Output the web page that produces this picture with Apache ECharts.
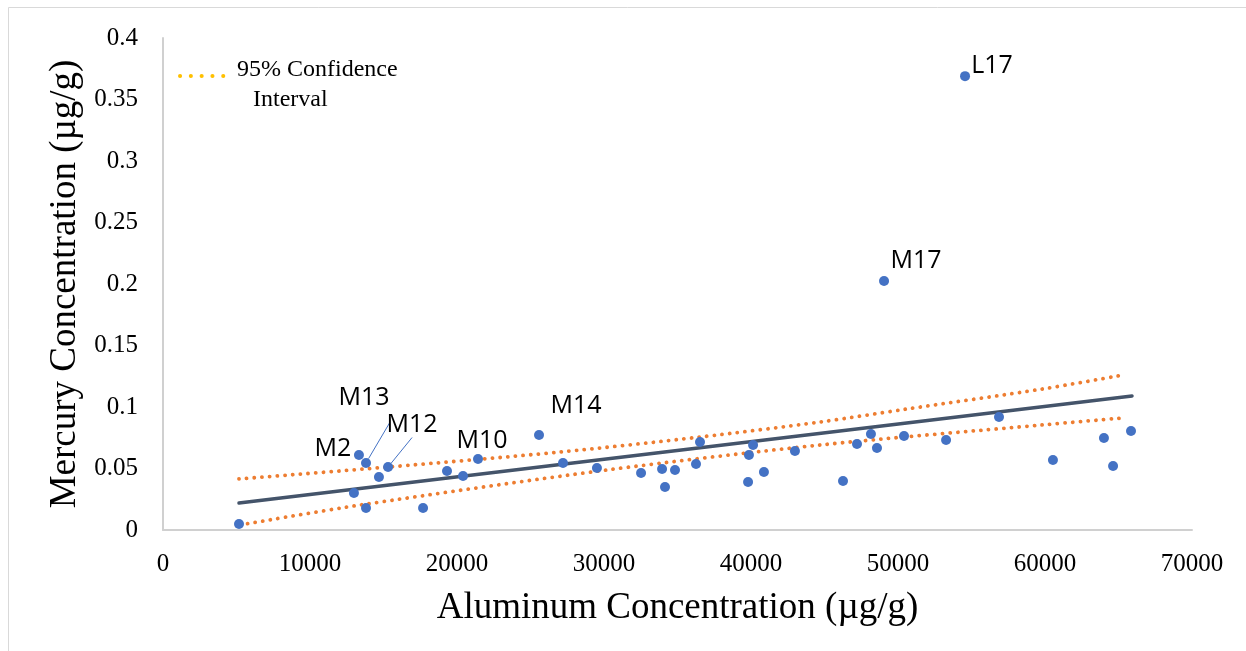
<!DOCTYPE html>
<html>
<head>
<meta charset="utf-8">
<script src="https://cdn.jsdelivr.net/npm/echarts@6/dist/echarts.min.js"></script>
<style>
html,body{margin:0;padding:0;background:#fff;}
#chart{width:1246px;height:651px;}
</style>
</head>
<body>
<div id="chart"></div>
<script>
// Sample points: aluminum (µg/g) and mercury (µg/g)
const alX = [5170, 12990, 13330, 13810, 13810, 14690, 15310, 17690, 19320, 20410, 21430, 25580, 27210, 29520, 32520, 33950, 34150, 34830, 36260, 36530, 39800, 39860, 40140, 40880, 42990, 46260, 47210, 48160, 48570, 49050, 50410, 53270, 54560, 56870, 60540, 64010, 64630, 65850];
const hgY = [0.0049, 0.0301, 0.061, 0.0545, 0.0179, 0.0431, 0.0512, 0.0179, 0.048, 0.0439, 0.0577, 0.0772, 0.0545, 0.0504, 0.0463, 0.0496, 0.035, 0.0488, 0.0537, 0.0715, 0.039, 0.061, 0.0691, 0.0472, 0.0642, 0.0398, 0.0699, 0.078, 0.0667, 0.2024, 0.0764, 0.0732, 0.369, 0.0919, 0.0569, 0.0748, 0.052, 0.0805];
const pointNames = ['', '', 'M2', 'M13', '', '', 'M12', '', '', '', 'M10', 'M14', '', '', '', '', '', '', '', '', '', '', '', '', '', '', '', '', '', 'M17', '', '', 'L17', '', '', '', '', ''];
// Regression line endpoints
const trendX = [5170, 65920];
const trendY = [0.022, 0.109];
// 95% confidence band
const upperX = [5170, 15310, 27010, 36530, 44690, 50610, 59800, 65310];
const upperY = [0.0415, 0.0512, 0.0634, 0.0756, 0.0878, 0.0984, 0.1146, 0.126];
const lowerX = [5240, 13400, 30200, 44690, 59800, 65310];
const lowerY = [0.0041, 0.0203, 0.0488, 0.0691, 0.0854, 0.0911];
// Axis ticks
const xTicks = {min: 0, max: 70000, interval: 10000};
const yTicks = {min: 0, max: 0.4, interval: 0.05};

// label offsets (pixels) relative to each labelled point
const labelOffsets = {
  'M2': [-26, -6], 'M13': [-2, -65], 'M12': [24, -42], 'M10': [4, -18],
  'M14': [37, -29], 'M17': [32, -20], 'L17': [27, -10]
};
const leaderNames = ['M13', 'M12'];

const zip = (a, b) => a.map((v, i) => [v, b[i]]);
const scatterData = alX.map((x, i) => {
  const nm = pointNames[i];
  const item = {value: [x, hgY[i]], name: nm};
  if (nm) {
    item.label = {show: true, position: 'inside', offset: labelOffsets[nm]};
    if (leaderNames.includes(nm)) {
      item.labelLine = {show: true, lineStyle: {color: '#4472C4', width: 1}};
    }
  }
  return item;
});

const serif = '"Liberation Serif", "Times New Roman", serif';
const chart = echarts.init(document.getElementById('chart'), null, {renderer: 'canvas'});
chart.setOption({
  animation: false,
  backgroundColor: '#fff',
  graphic: [{
    type: 'rect', silent: true, z: -10,
    shape: {x: 8.5, y: 7.5, width: 1400, height: 800},
    style: {fill: 'none', stroke: '#D9D9D9', lineWidth: 1}
  }],
  grid: {left: 163, right: 54, top: 38, bottom: 121},
  legend: {
    data: ['95% Confidence Interval'],
    left: 178, top: 37, padding: 0,
    itemWidth: 52, itemHeight: 20,
    itemStyle: {opacity: 0},
    lineStyle: {color: '#FFC000', width: 4, type: [0.1, 10.7], cap: 'round'},
    formatter: () => '95% Confidence\n{b|Interval}',
    textStyle: {
      fontFamily: serif, fontSize: 24, color: '#000', lineHeight: 30,
      padding: [18, 0, 0, 0],
      rich: {b: {fontFamily: serif, fontSize: 24, color: '#000', lineHeight: 30, padding: [0, 0, 0, 16]}}
    }
  },
  xAxis: {
    type: 'value', min: xTicks.min, max: xTicks.max, interval: xTicks.interval,
    name: 'Aluminum Concentration (µg/g)', nameLocation: 'middle', nameGap: 60,
    nameTextStyle: {fontFamily: serif, fontSize: 37, color: '#000'},
    axisLine: {show: true, lineStyle: {color: '#D0D0D0', width: 2}},
    axisTick: {show: false}, splitLine: {show: false},
    axisLabel: {fontFamily: serif, fontSize: 25, color: '#000', margin: 22, formatter: v => String(v)}
  },
  yAxis: {
    type: 'value', min: yTicks.min, max: yTicks.max, interval: yTicks.interval,
    name: 'Mercury Concentration (µg/g)', nameLocation: 'middle', nameGap: 78,
    nameTextStyle: {fontFamily: serif, fontSize: 37, color: '#000'},
    axisLine: {show: true, lineStyle: {color: '#D0D0D0', width: 2}},
    axisTick: {show: false}, splitLine: {show: false},
    axisLabel: {fontFamily: serif, fontSize: 25, color: '#000', margin: 25, formatter: v => String(v)}
  },
  series: [
    {
      name: 'Upper CI', type: 'line', data: zip(upperX, upperY), smooth: 0.3,
      symbol: 'none', z: 3,
      lineStyle: {color: '#ED7D31', width: 3.8, type: [0.1, 7.6], cap: 'round'}
    },
    {
      name: 'Lower CI', type: 'line', data: zip(lowerX, lowerY), smooth: 0.3,
      symbol: 'none', z: 3,
      lineStyle: {color: '#ED7D31', width: 3.8, type: [0.1, 7.6], cap: 'round'}
    },
    {
      name: 'Trend', type: 'line', data: zip(trendX, trendY),
      symbol: 'none', z: 4,
      lineStyle: {color: '#44546A', width: 3.5, cap: 'round'}
    },
    {
      name: '95% Confidence Interval', type: 'line', data: [],
      symbol: 'none', itemStyle: {color: '#FFC000'},
      lineStyle: {color: '#FFC000', width: 4, type: [0.1, 10.7], cap: 'round'}
    },
    {
      name: 'Samples', type: 'scatter', data: scatterData, symbolSize: 10, z: 5,
      itemStyle: {color: '#4472C4', opacity: 1},
      label: {show: false, formatter: '{b}', fontFamily: '"Open Sans", "Noto Sans", sans-serif', fontSize: 25, color: '#000'}
    }
  ]
});
</script>
</body>
</html>
